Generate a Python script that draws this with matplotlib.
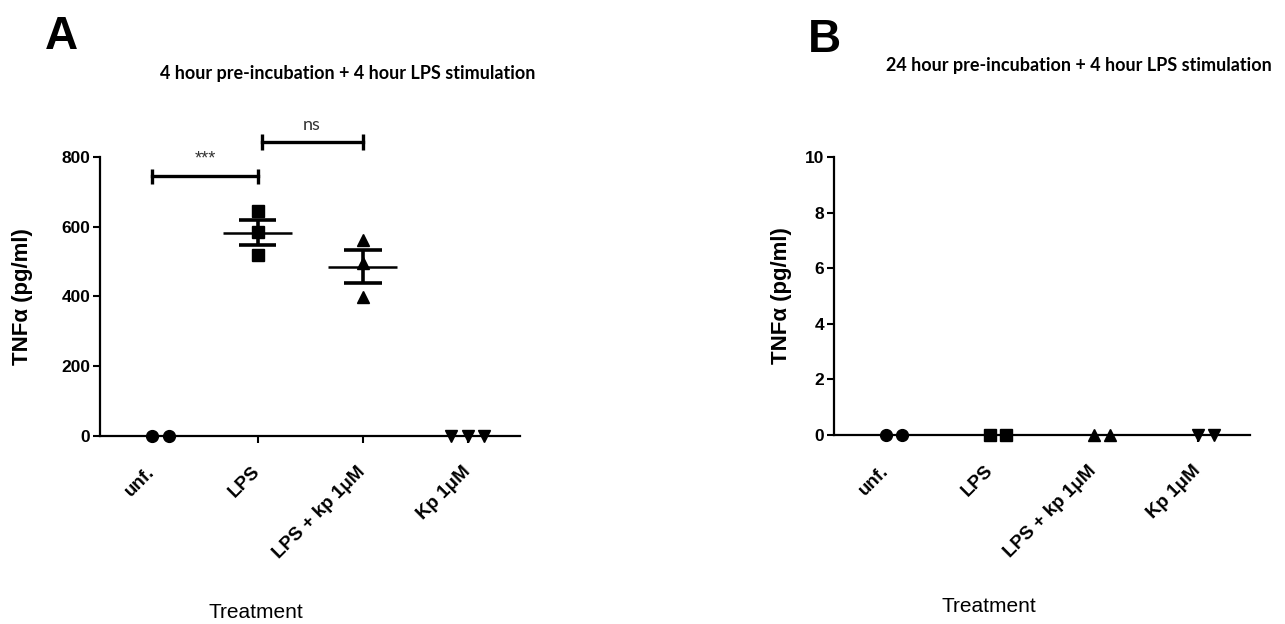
import numpy as np
import matplotlib.pyplot as plt

# Datos
categorias = ['unf.', 'LPS', 'LPS + kp 1μM', 'Kp 1μM']
marcadores = ['o', 's', '^', 'v']

# Panel A: 4 h pre-incubación
a_unf = [0, 0]
a_lps = [645, 585, 520]
a_lps_kp = [562, 496, 399]
a_kp = [0, 0, 0]

# Panel B: 24 h pre-incubación
b_unf = [0, 0]
b_lps = [0, 0]
b_lps_kp = [0, 0]
b_kp = [0, 0]

titulo_a = '4 hour pre-incubation + 4 hour LPS stimulation'
titulo_b = '24 hour pre-incubation + 4 hour LPS stimulation'
yticks_a = [0, 200, 400, 600, 800]
yticks_b = [0, 2, 4, 6, 8, 10]

plt.rcParams['font.family'] = ['Liberation Sans', 'DejaVu Sans']


def desplazar(valores, paso=0.155):
    # separa horizontalmente los puntos con el mismo valor (estilo Prism)
    valores = np.asarray(valores, dtype=float)
    offs = np.zeros(len(valores))
    for v in np.unique(valores):
        idx = np.where(valores == v)[0]
        n = len(idx)
        if n > 1:
            offs[idx] = (np.arange(n) - (n - 1) // 2) * paso
    return offs


def dibujar(ax, grupos, ymax, yticks):
    for i, (vals, m) in enumerate(zip(grupos, marcadores)):
        vals = np.asarray(vals, dtype=float)
        xs = i + desplazar(vals)
        ax.plot(xs, vals, m, color='black', ms=8.5, clip_on=False, zorder=3)
        media = vals.mean()
        sem = vals.std(ddof=1) / np.sqrt(len(vals))
        ax.hlines(media, i - 0.33, i + 0.33, color='black', lw=1.8, zorder=4)
        if sem > 0:
            ax.hlines([media - sem, media + sem], i - 0.18, i + 0.18,
                      color='black', lw=2.6, zorder=4)
            ax.vlines(i, media - sem, media + sem, color='black', lw=2.6, zorder=4)
    ax.set_xlim(-0.5, 3.5)
    ax.set_ylim(0, ymax)
    ax.set_yticks(yticks)
    ax.set_xticks(range(len(categorias)))
    ax.set_xticklabels(categorias, rotation=45, ha='right', va='center',
                       rotation_mode='anchor', fontsize=13.5, fontweight='bold')
    for lab in ax.get_yticklabels():
        lab.set_fontweight('bold')
        lab.set_fontsize(12.5)
    ax.tick_params(axis='x', length=5, width=1.5, pad=19)
    ax.tick_params(axis='y', length=5, width=1.5, pad=2)
    for s in ['top', 'right']:
        ax.spines[s].set_visible(False)
    for s in ['left', 'bottom']:
        ax.spines[s].set_linewidth(1.6)
    ax.set_ylabel('TNFα (pg/ml)', fontsize=16, fontweight='bold')


fig = plt.figure(figsize=(12.85, 6.24), dpi=100)
axA = fig.add_axes([0.0778, 0.3013, 0.327, 0.4471])
axB = fig.add_axes([0.649, 0.3029, 0.3237, 0.4455])

dibujar(axA, [a_unf, a_lps, a_lps_kp, a_kp], 800, yticks_a)
dibujar(axB, [b_unf, b_lps, b_lps_kp, b_kp], 10, yticks_b)

axA.yaxis.set_label_coords(-0.16, 0.5)
axB.yaxis.set_label_coords(-0.10, 0.5)

# Barras de significancia
for x0, x1, y, txt, fam in [(0, 1, 745, '***', 'Liberation Sans'),
                            (1.04, 2.0, 843, 'ns', 'Lato')]:
    axA.plot([x0, x1], [y, y], color='black', lw=2.4, clip_on=False)
    axA.vlines([x0, x1], y - 22, y + 22, color='black', lw=2.4, clip_on=False)
    axA.text((x0 + x1) / 2, y + 26, txt, ha='center', va='bottom',
             fontsize=13, color='#333333', family=[fam, 'DejaVu Sans'])

# Títulos y letras
fig.text(348 / 1285, 1 - 74 / 624, titulo_a, ha='center', va='center',
         fontsize=13, fontweight='bold', family=['Lato', 'DejaVu Sans'])
fig.text(1079 / 1285, 1 - 66 / 624, titulo_b, ha='center', va='center',
         fontsize=13, fontweight='bold', family=['Lato', 'DejaVu Sans'])
fig.text(61 / 1285, 1 - 37 / 624, 'A', ha='center', va='center',
         fontsize=33, fontweight='bold')
fig.text(824 / 1285, 1 - 40 / 624, 'B', ha='center', va='center',
         fontsize=33, fontweight='bold')

fig.text(256 / 1285, 1 - 612 / 624, 'Treatment', ha='center', va='center',
         fontsize=15)
fig.text(989 / 1285, 1 - 607 / 624, 'Treatment', ha='center', va='center',
         fontsize=15)

fig.savefig('out.png', dpi=100)
